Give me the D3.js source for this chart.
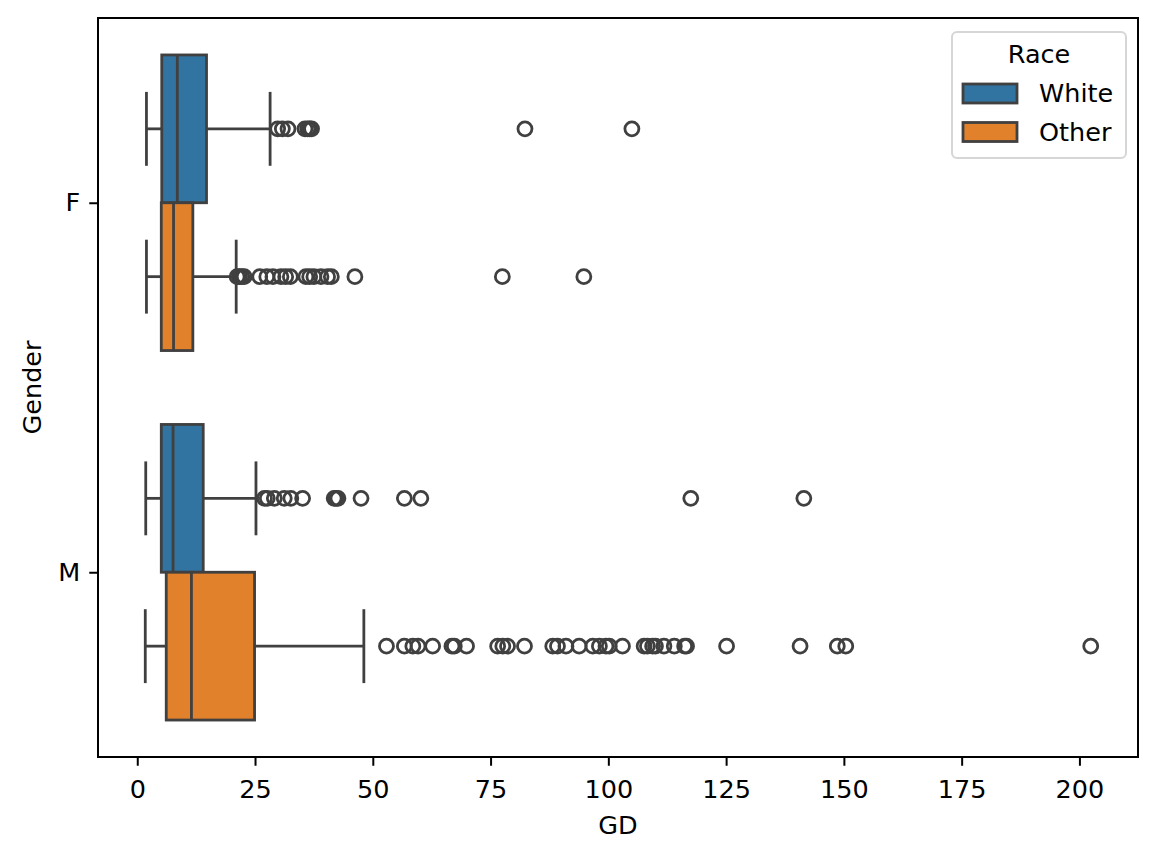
<!DOCTYPE html>
<html>
<head>
<meta charset="utf-8">
<script src="https://cdn.jsdelivr.net/npm/d3@7"></script>
<style>
  body { margin: 0; background: #ffffff; }
  text { font-family: "DejaVu Sans", sans-serif; }
</style>
</head>
<body>
<div id="box-container"></div>
<script>
const genders = ['F', 'M'];
const races = ['White', 'Other'];
const raceColors = ['#3274a1', '#e1812c'];

// box stats, one entry per gender, order F then M
const whiteLow = [1.95, 1.8];
const whiteQ1 = [5.2, 5.1];
const whiteMedian = [8.5, 7.6];
const whiteQ3 = [14.7, 14.0];
const whiteHigh = [28.2, 25.2];

const otherLow = [1.95, 1.7];
const otherQ1 = [5.1, 6.15];
const otherMedian = [7.7, 11.5];
const otherQ3 = [11.8, 24.9];
const otherHigh = [21.0, 48.1];

const whiteOutliersF = [29.8, 30.8, 32.0, 35.6, 36.2, 36.6, 37.0, 82.3, 105.0];
const otherOutliersF = [21.2, 21.7, 22.2, 22.7, 26.0, 27.5, 28.8, 30.5, 31.5, 32.5,
  35.8, 36.6, 37.5, 39.0, 40.4, 41.2, 46.2, 77.5, 94.8];
const whiteOutliersM = [27.0, 27.6, 29.1, 31.2, 32.6, 35.1, 41.8, 42.2, 42.6, 47.5,
  56.7, 60.2, 117.5, 141.5];
const otherOutliersM = [52.9, 56.7, 58.5, 59.6, 62.7, 66.8, 67.3, 69.9, 76.5, 77.6,
  78.6, 82.2, 88.2, 89.2, 91.0, 93.8, 96.7, 98.1, 99.5, 100.2, 103.0, 107.6, 108.3,
  109.4, 110.0, 111.8, 114.0, 116.2, 116.6, 125.1, 140.7, 148.6, 150.4, 202.4];

const xTicks = [0, 25, 50, 75, 100, 125, 150, 175, 200];

const width = 1158;
const height = 858;
const margin = { top: 18, right: 20, bottom: 101, left: 98 };
const lineColor = '#404040';
const lw = 2.8;

const boxes = [];
genders.forEach((g, i) => {
  boxes.push({ gender: g, race: 0, low: whiteLow[i], q1: whiteQ1[i], med: whiteMedian[i],
    q3: whiteQ3[i], high: whiteHigh[i], out: i === 0 ? whiteOutliersF : whiteOutliersM });
  boxes.push({ gender: g, race: 1, low: otherLow[i], q1: otherQ1[i], med: otherMedian[i],
    q3: otherQ3[i], high: otherHigh[i], out: i === 0 ? otherOutliersF : otherOutliersM });
});

// matplotlib style 5% padding around the data range
const allVals = boxes.flatMap(b => [b.low, b.high, ...b.out]);
const dMin = d3.min(allVals);
const dMax = d3.max(allVals);
const pad = (dMax - dMin) * 0.05;

const x = d3.scaleLinear()
  .domain([dMin - pad, dMax + pad])
  .range([margin.left, width - margin.right]);
const y = d3.scaleLinear()
  .domain([-0.5, 1.5])
  .range([margin.top, height - margin.bottom]);

const svg = d3.select('#box-container')
  .append('svg')
  .attr('width', width)
  .attr('height', height);

const boxW = 0.4;
const boxG = svg.selectAll('g.box')
  .data(boxes)
  .enter()
  .append('g')
  .attr('class', 'box');

const boxTop = d => genders.indexOf(d.gender) - 0.4 + d.race * boxW;
const boxMid = d => boxTop(d) + boxW / 2;

// whiskers
boxG.append('line')
  .attr('x1', d => x(d.low)).attr('x2', d => x(d.q1))
  .attr('y1', d => y(boxMid(d))).attr('y2', d => y(boxMid(d)))
  .style('stroke', lineColor).style('stroke-width', lw);
boxG.append('line')
  .attr('x1', d => x(d.q3)).attr('x2', d => x(d.high))
  .attr('y1', d => y(boxMid(d))).attr('y2', d => y(boxMid(d)))
  .style('stroke', lineColor).style('stroke-width', lw);
// caps
['low', 'high'].forEach(k => {
  boxG.append('line')
    .attr('x1', d => x(d[k])).attr('x2', d => x(d[k]))
    .attr('y1', d => y(boxMid(d) - boxW / 4)).attr('y2', d => y(boxMid(d) + boxW / 4))
    .style('stroke', lineColor).style('stroke-width', lw);
});

boxG.append('rect')
  .attr('x', d => x(d.q1))
  .attr('width', d => x(d.q3) - x(d.q1))
  .attr('y', d => y(boxTop(d)))
  .attr('height', d => y(boxTop(d) + boxW) - y(boxTop(d)))
  .style('fill', d => raceColors[d.race])
  .style('stroke', lineColor)
  .style('stroke-width', lw);

boxG.append('line')
  .attr('x1', d => x(d.med)).attr('x2', d => x(d.med))
  .attr('y1', d => y(boxTop(d))).attr('y2', d => y(boxTop(d) + boxW))
  .style('stroke', lineColor).style('stroke-width', lw);

// fliers
boxG.selectAll('circle')
  .data(d => d.out.map(v => ({ v, c: boxMid(d) })))
  .enter()
  .append('circle')
  .attr('cx', d => x(d.v))
  .attr('cy', d => y(d.c))
  .attr('r', 7)
  .style('fill', 'none')
  .style('stroke', lineColor)
  .style('stroke-width', lw);

// axes
const xAxis = svg.append('g')
  .attr('transform', `translate(0, ${height - margin.bottom})`)
  .call(d3.axisBottom(x).tickValues(xTicks).tickSize(8.75).tickPadding(8));
const yAxis = svg.append('g')
  .attr('transform', `translate(${margin.left}, 0)`)
  .call(d3.axisLeft(y).tickValues([0, 1]).tickFormat(i => genders[i]).tickSize(8.75).tickPadding(9));
[xAxis, yAxis].forEach(a => {
  a.select('.domain').remove();
  a.selectAll('.tick line').style('stroke', '#000').style('stroke-width', 2);
  a.selectAll('.tick text').style('font-size', '25.5px').style('fill', '#000')
    .style('font-family', '"DejaVu Sans", sans-serif');
});
xAxis.selectAll('.tick text').attr('dy', '0.95em');

svg.append('rect')
  .attr('x', margin.left)
  .attr('y', margin.top)
  .attr('width', width - margin.left - margin.right)
  .attr('height', height - margin.top - margin.bottom)
  .style('fill', 'none')
  .style('stroke', '#000')
  .style('stroke-width', 2);

svg.append('text')
  .attr('x', (margin.left + width - margin.right) / 2)
  .attr('y', 834)
  .attr('text-anchor', 'middle')
  .style('font-size', '25.5px')
  .text('GD');
svg.append('text')
  .attr('transform', `translate(41, ${(margin.top + height - margin.bottom) / 2}) rotate(-90)`)
  .attr('text-anchor', 'middle')
  .style('font-size', '25.5px')
  .text('Gender');

// legend
const legend = svg.append('g').attr('transform', 'translate(952, 32)');
legend.append('rect')
  .attr('width', 174).attr('height', 126)
  .attr('rx', 5)
  .style('fill', '#ffffff').style('fill-opacity', 0.8)
  .style('stroke', '#d6d6d6').style('stroke-width', 2);
legend.append('text')
  .attr('x', 87).attr('y', 31)
  .attr('text-anchor', 'middle')
  .style('font-size', '25.5px')
  .text('Race');
races.forEach((r, i) => {
  legend.append('rect')
    .attr('x', 11).attr('y', 52 + i * 38.5)
    .attr('width', 54).attr('height', 19)
    .style('fill', raceColors[i])
    .style('stroke', lineColor).style('stroke-width', lw);
  legend.append('text')
    .attr('x', 87).attr('y', 70 + i * 38.5)
    .style('font-size', '25.5px')
    .text(r);
});
</script>
</body>
</html>
